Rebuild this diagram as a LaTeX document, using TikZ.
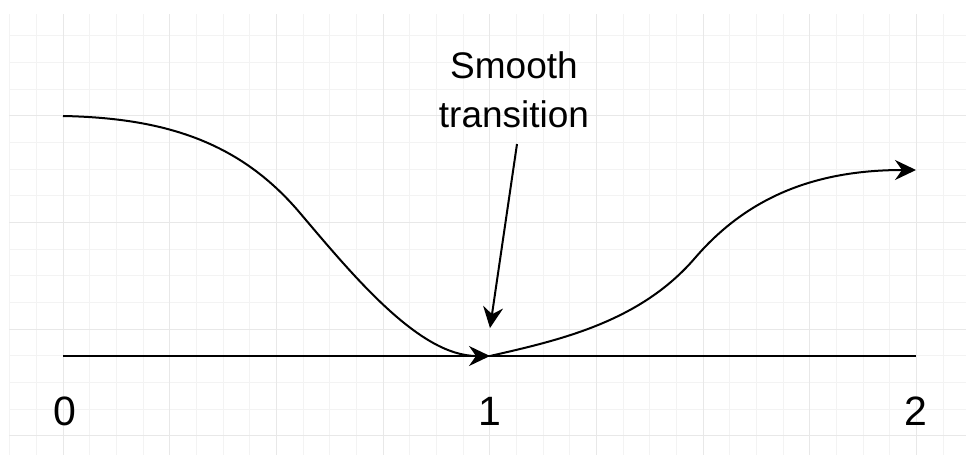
\documentclass[tikz,border=0pt]{standalone}
\usepackage{fontspec}
\setmainfont{Liberation Sans}
\usetikzlibrary{arrows.meta}
\definecolor{gminor}{HTML}{F3F3F3}
\definecolor{gmajor}{HTML}{E8E8E8}
\begin{document}
\begin{tikzpicture}[x=1pt,y=-1pt,
  curve/.style={line width=2pt, -{Stealth[length=21pt,width=20pt,inset=7pt]}},
  axisline/.style={line width=2pt},
  lbl/.style={font=\fontsize{41}{49}\selectfont, inner sep=0pt, anchor=base},
  txt/.style={font=\fontsize{37}{45}\selectfont, inner sep=0pt, anchor=base},
  minorline/.style={gminor, line width=1pt},
  majorline/.style={gmajor, line width=1pt}]
\useasboundingbox (0,0) rectangle (966,455);
\fill[white] (0,0) rectangle (966,455);
\begin{scope}
\clip (9,14) rectangle (966,455);
\foreach \i [evaluate=\i as \x using 9.7+26.667*\i] in {0,...,36}
  \draw[minorline] (\x,0) -- (\x,455);
\foreach \j [evaluate=\j as \y using 9.3+26.667*\j] in {0,...,17}
  \draw[minorline] (0,\y) -- (966,\y);
\foreach \i [evaluate=\i as \x using 63+106.667*\i] in {0,...,8}
  \draw[majorline] (\x,0) -- (\x,455);
\foreach \j [evaluate=\j as \y using 9.3+106.667*\j] in {0,...,4}
  \draw[majorline] (0,\y) -- (966,\y);
\end{scope}

\coordinate (s0) at (63,116);
\coordinate (w1) at (300,213);
\coordinate (m) at (490,356);
\coordinate (w2) at (695,258);
\coordinate (e) at (916,170);
\coordinate (a0) at (63,356);
\coordinate (a2) at (916,356);
\coordinate (p1) at (517,144);
\coordinate (q) at (490,328);

\draw[axisline] (a0) -- (a2);
\draw[curve] (s0) .. controls (165,118) and (240,142) .. (w1)
  .. controls (355,278) and (420,356) .. (m);
\draw[curve] (m) .. controls (560,340) and (640,322) .. (w2)
  .. controls (750,194) and (820,170) .. (e);
\draw[curve] (p1) -- (q);

\node[txt] (smooth) at (514,78) {Smooth};
\node[txt] (trans) at (514,127) {transition};
\node[lbl] (d0) at (65,425) {0};
\node[lbl] (d1) at (490,425) {1};
\node[lbl] (d2) at (916,425) {2};
\end{tikzpicture}
\end{document}
